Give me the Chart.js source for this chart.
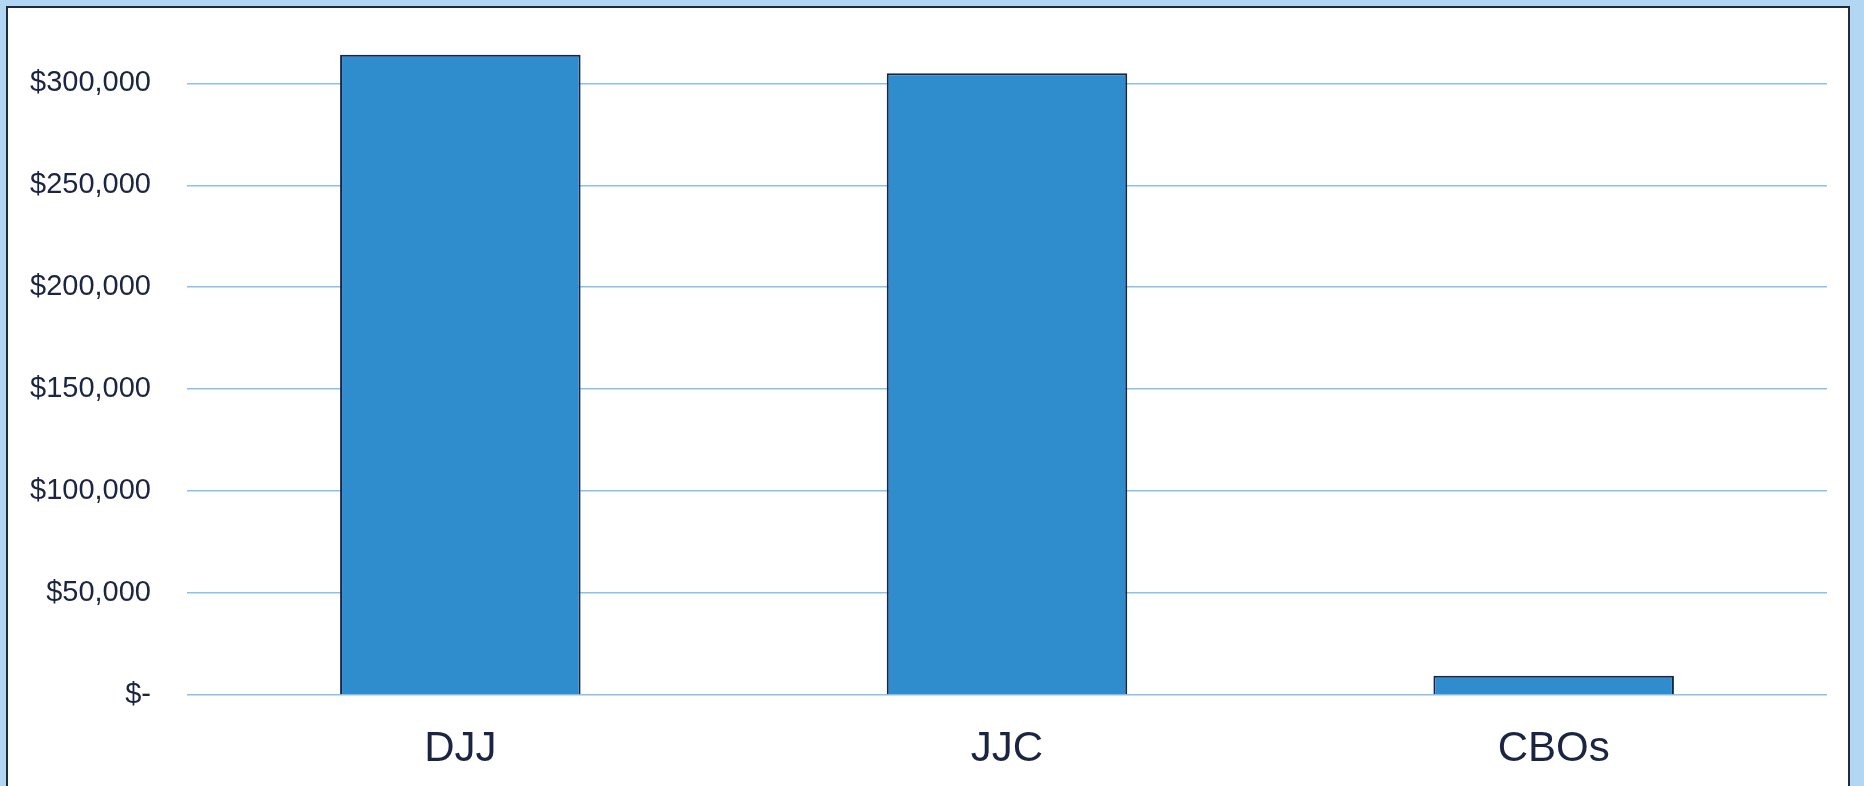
<!DOCTYPE html>
<html>
<head>
<meta charset="utf-8">
<script src="https://cdn.jsdelivr.net/npm/chart.js@4"></script>
<style>
    html, body { margin: 0; padding: 0; width: 1864px; height: 786px; overflow: hidden; background: #b3d7f2; }
    #panel { position: absolute; left: 6px; top: 6px; width: 1844px; height: 784px; background: #ffffff; border: 2px solid #1c2a44; box-sizing: border-box; }
    #wrap { position: absolute; left: 0; top: 0; width: 1864px; height: 786px; }
</style>
</head>
<body>
<div id="panel"></div>
<div id="wrap"><canvas id="costChart"></canvas></div>
<script>
// Cost by agency
const categories = ['DJJ', 'JJC', 'CBOs'];
const costValues = [314000, 305000, 9500];
const yTicks = [0, 50000, 100000, 150000, 200000, 250000, 300000];

const textColor = '#1b2440';

const fmtMoney = (v) => v === 0 ? '$-' : '$' + v.toLocaleString('en-US');

new Chart(document.getElementById('costChart'), {
    type: 'bar',
    data: {
        labels: categories,
        datasets: [{
            data: costValues,
            backgroundColor: '#2f8ccd',
            borderColor: '#14264a',
            borderWidth: 2,
            barPercentage: 0.44,
            categoryPercentage: 1
        }]
    },
    options: {
        responsive: true,
        maintainAspectRatio: false,
        animation: false,
        layout: { padding: { left: 0, right: 37, top: 31, bottom: 0 } },
        plugins: {
            legend: { display: false },
            tooltip: { enabled: false }
        },
        scales: {
            x: {
                grid: { display: false },
                border: { display: false },
                ticks: {
                    color: textColor,
                    padding: 21,
                    font: { family: 'Liberation Sans, Arial', size: 42 }
                },
                afterFit: (axis) => { axis.height = 91; }
            },
            y: {
                min: 0,
                max: 314700,
                grid: { color: '#8cc2ea', lineWidth: 1.5, drawTicks: false },
                border: { display: false },
                ticks: {
                    color: textColor,
                    padding: 36,
                    font: { family: 'Liberation Sans, Arial', size: 29 },
                    callback: (v) => fmtMoney(v)
                },
                afterBuildTicks: (axis) => {
                    axis.ticks = yTicks.map(v => ({ value: v }));
                },
                afterFit: (axis) => { axis.width = 187; }
            }
        }
    }
});
</script>
</body>
</html>
